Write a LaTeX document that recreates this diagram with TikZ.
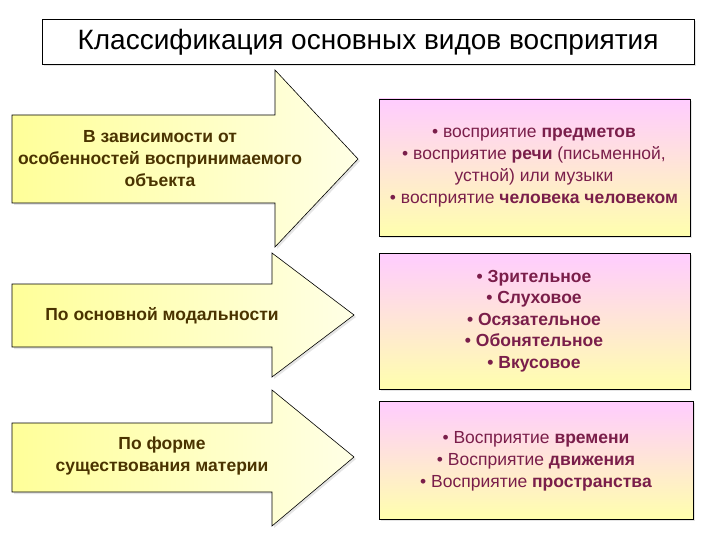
\documentclass[tikz,border=0pt]{standalone}
\usepackage{fontspec}
\setmainfont{Liberation Sans}
\usetikzlibrary{shadows}
\definecolor{arrowtxt}{HTML}{4A3300}
\definecolor{boxtxt}{HTML}{7A1E4A}
\definecolor{ylw}{HTML}{FFFF99}
\definecolor{pnk}{HTML}{FFCCFF}
\tikzset{
  arrowshape/.style={draw=black, line width=0.6pt, left color=ylw, right color=ylw!25!white, drop shadow={shadow xshift=2pt, shadow yshift=-2pt, fill=gray!40}},
  infobox/.style={draw=black, line width=0.6pt, top color=pnk, bottom color=ylw!80!white, drop shadow={shadow xshift=2pt, shadow yshift=-2pt, fill=gray!40}},
  lefttext/.style={font=\fontsize{17.5}{22}\selectfont\bfseries, text=arrowtxt, align=center},
  righttext/.style={font=\fontsize{17.5}{22}\selectfont, text=boxtxt, align=center},
}
\begin{document}
\begin{tikzpicture}[x=1pt,y=-1pt]
\useasboundingbox (0,0) rectangle (720,540);
% title
\node[draw=black, line width=0.6pt, fill=white, drop shadow={shadow xshift=2pt, shadow yshift=-2pt, fill=gray!40}, minimum width=652pt, minimum height=45pt, font=\fontsize{28}{32}\selectfont] (title) at (368,42) {Классификация основных видов восприятия};
% arrows
\path[arrowshape] (12,115) -- (275,115) -- (275,70) -- (358,159) -- (275,247) -- (275,203) -- (12,203) -- cycle;
\path[arrowshape] (12,284) -- (272,284) -- (272,253) -- (354,315) -- (272,377) -- (272,347) -- (12,347) -- cycle;
\path[arrowshape] (12,423) -- (272,423) -- (272,390) -- (354,457) -- (272,526) -- (272,492) -- (12,492) -- cycle;
\node[lefttext] (a1) at (160,159) {В зависимости от\\особенностей воспринимаемого\\объекта};
\node[lefttext] (a2) at (162,316) {По основной модальности};
\node[lefttext] (a3) at (162,456) {По форме\\существования материи};
% boxes
\path[infobox] (379,99) rectangle (690,236);
\path[infobox] (379,253) rectangle (690,389);
\path[infobox] (379,401) rectangle (693,519);
\node[righttext] (b1) at (534,168) {• восприятие \textbf{предметов}\\• восприятие \textbf{речи} (письменной,\\устной) или музыки\\• восприятие \textbf{человека человеком}};
\node[righttext, font=\fontsize{17.5}{21.5}\selectfont\bfseries] (b2) at (534,321) {• Зрительное\\• Слуховое\\• Осязательное\\• Обонятельное\\• Вкусовое};
\node[righttext] (b3) at (536,461) {• Восприятие \textbf{времени}\\• Восприятие \textbf{движения}\\• Восприятие \textbf{пространства}};
\end{tikzpicture}
\end{document}
